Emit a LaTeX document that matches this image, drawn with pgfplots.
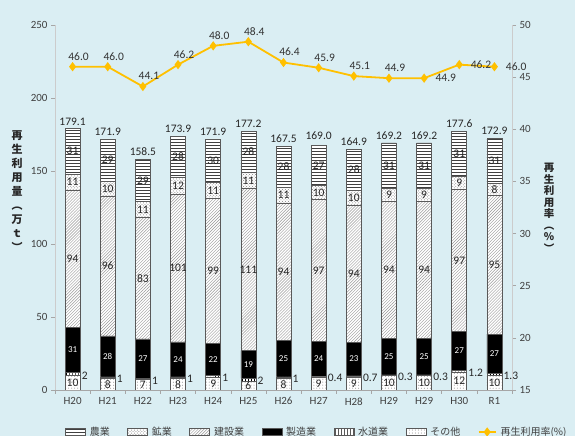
\documentclass[border=0pt]{standalone}
\usepackage{fontspec}
\setmainfont{Carlito}
\newfontfamily\jp{Noto Sans CJK JP}
\usepackage{pgfplots}
\pgfplotsset{compat=1.18}
\usepackage{pgfplotstable}
\usetikzlibrary{patterns}
\definecolor{bg}{HTML}{DAEEF3}
\definecolor{lineY}{HTML}{FFC000}
\definecolor{txt}{HTML}{404040}
\definecolor{edge}{HTML}{595959}
\pgfplotsset{
  mybar/.style={legend image code/.code={\draw[##1] (0bp,-3.5bp) rectangle (20bp,3.5bp);}},
  base/.style={at={(55bp,46bp)}, anchor=south west, scale only axis,
    width=457bp, height=365bp, xmin=-0.5, xmax=12.5,
    /pgf/number format/assume math mode=true},
}
\pgfplotstableread{
x o w m c k a t r
0 10 2 31 94 11 31 179.1 46.0
1 8 1 28 96 10 29 171.9 46.0
2 7 1 27 83 11 29 158.5 44.1
3 8 1 24 101 12 28 173.9 46.2
4 9 1 22 99 11 30 171.9 48.0
5 6 2 19 111 11 28 177.2 48.4
6 8 1 25 94 11 28 167.5 46.4
7 9 0.4 24 97 10 27 169.0 45.9
8 9 0.7 23 94 10 28 164.9 45.1
9 10 0.3 25 94 9 31 169.2 44.9
10 10 0.3 25 94 9 31 169.2 44.9
11 12 1.2 27 97 9 31 177.6 46.2
12 10 1.3 27 95 8 31 172.9 46.0
}\data
\begin{document}
\begin{tikzpicture}
\useasboundingbox (0,0) rectangle (575bp,436bp);
\clip (0,0) rectangle (575bp,436bp);
\fill[bg] (0,0) rectangle (575bp,436bp);
% bars
\begin{axis}[base, ybar stacked, bar width=15bp, ymin=0, ymax=250,
  axis x line*=bottom, axis y line*=left,
  xtick={-0.5,0.5,...,12.5}, x tick label as interval,
  xticklabels={H20,H21,H22,H23,H24,H25,H26,H27,H28,H29,H29,H30,R1},
  ytick={0,50,...,250},
  tick align=outside, major tick length=4bp,
  tick style={draw=gray!70, line width=0.5bp},
  x axis line style={draw=gray!70, line width=0.8bp},
  y axis line style={draw=gray!40, line width=0.8bp},
  tick label style={font=\fontsize{11bp}{13bp}\selectfont, text=txt},
]
\addplot[draw=edge, line width=0.6bp, fill=white, postaction={pattern=dots, pattern color=gray}] table[x=x,y=o]{\data};
\addplot[draw=edge, line width=0.6bp, fill=white, postaction={pattern=vertical lines, pattern color=black}] table[x=x,y=w]{\data};
\addplot[draw=edge, line width=0.6bp, fill=black] table[x=x,y=m]{\data};
\addplot[draw=edge, line width=0.6bp, fill=white, postaction={pattern=north east lines, pattern color=gray!80}] table[x=x,y=c]{\data};
\addplot[draw=edge, line width=0.6bp, fill=white, postaction={pattern=crosshatch dots, pattern color=gray}] table[x=x,y=k]{\data};
\addplot[draw=edge, line width=0.6bp, fill=white, postaction={pattern=horizontal lines, pattern color=black!75}] table[x=x,y=a]{\data};
\end{axis}
% segment and total labels
\begin{axis}[base, ymin=0, ymax=250, hide axis, clip=false,
  nodes near coords, point meta=explicit symbolic,
  every node near coord/.append style={anchor=center, font=\fontsize{11.5bp}{13bp}\selectfont, text=black!85, inner sep=1bp}]
\addplot[draw=none, mark=none] table[x=x, y expr=\thisrow{o}/2, meta=o]{\data};
\addplot[draw=none, mark=none, nodes near coords style={anchor=west, xshift=8bp}] table[x=x, y expr=\thisrow{o}+\thisrow{w}/2-1, meta=w]{\data};
\addplot[draw=none, mark=none, nodes near coords style={text=white, font=\fontsize{9bp}{10bp}\selectfont}] table[x=x, y expr=\thisrow{o}+\thisrow{w}+\thisrow{m}/2, meta=m]{\data};
\addplot[draw=none, mark=none] table[x=x, y expr=\thisrow{o}+\thisrow{w}+\thisrow{m}+\thisrow{c}/2, meta=c]{\data};
\addplot[draw=none, mark=none] table[x=x, y expr=\thisrow{o}+\thisrow{w}+\thisrow{m}+\thisrow{c}+\thisrow{k}/2, meta=k]{\data};
\addplot[draw=none, mark=none] table[x=x, y expr=\thisrow{o}+\thisrow{w}+\thisrow{m}+\thisrow{c}+\thisrow{k}+\thisrow{a}/2, meta=a]{\data};
\addplot[draw=none, mark=none, nodes near coords style={anchor=south, yshift=2bp}] table[x=x, y=t, meta=t]{\data};
\end{axis}
% rate line
\begin{axis}[base, ymin=15, ymax=50, axis y line*=right, axis x line=none,
  ytick={15,20,...,50},
  tick align=outside, major tick length=4bp,
  tick style={draw=gray!70, line width=0.5bp},
  y axis line style={draw=gray!40, line width=0.8bp},
  tick label style={font=\fontsize{11bp}{13bp}\selectfont, text=txt},
  clip=false,
  legend columns=7, legend cell align=left,
  legend style={at={(axis description cs:0.022,-0.115)}, anchor=west,
    draw=none, fill=none, text=txt, inner sep=0pt,
    font=\jp\fontsize{10bp}{12bp}\selectfont,
    /tikz/every even column/.append style={column sep=15.5bp},
    /tikz/every odd column/.append style={column sep=2bp}},
]
\addlegendimage{mybar, draw=edge, line width=0.6bp, fill=white, postaction={pattern=horizontal lines, pattern color=black!75}}
\addlegendentry{農業}
\addlegendimage{mybar, draw=edge, line width=0.6bp, fill=white, postaction={pattern=crosshatch dots, pattern color=gray}}
\addlegendentry{鉱業}
\addlegendimage{mybar, draw=edge, line width=0.6bp, fill=white, postaction={pattern=north east lines, pattern color=gray!80}}
\addlegendentry{建設業}
\addlegendimage{mybar, draw=edge, line width=0.6bp, fill=black}
\addlegendentry{製造業}
\addlegendimage{mybar, draw=edge, line width=0.6bp, fill=white, postaction={pattern=vertical lines, pattern color=black}}
\addlegendentry{水道業}
\addlegendimage{mybar, draw=edge, line width=0.6bp, fill=white, postaction={pattern=dots, pattern color=gray}}
\addlegendentry{その他}
\addplot[lineY, line width=1.8bp, mark=diamond*, mark size=3.2bp, mark options={fill=lineY, draw=lineY}] table[x=x,y=r]{\data};
\addlegendentry{再生利用率(\%)}
\addplot[forget plot, draw=none, mark=none, nodes near coords, point meta=explicit symbolic,
  skip coords between index={10}{13},
  nodes near coords style={anchor=south, xshift=6bp, yshift=3bp, font=\fontsize{11.5bp}{13bp}\selectfont, text=black!80}] table[x=x,y=r,meta=r]{\data};
\addplot[forget plot, draw=none, mark=none, nodes near coords, point meta=explicit symbolic,
  skip coords between index={0}{10},
  nodes near coords style={anchor=west, xshift=8bp, font=\fontsize{11.5bp}{13bp}\selectfont, text=black!80}] table[x=x,y=r,meta=r]{\data};
\end{axis}
\node[font=\jp\bfseries\fontsize{11bp}{14bp}\selectfont, align=center, text=black!85, inner sep=0pt] at (17bp,245bp) {再\\生\\利\\用\\量\\︵\\万\\ｔ\\︶};
\node[font=\jp\bfseries\fontsize{10.5bp}{11.5bp}\selectfont, align=center, text=black!85, inner sep=0pt] at (549bp,228bp) {再\\生\\利\\用\\率\\︵\\\%\\︶};
\end{tikzpicture}
\end{document}
